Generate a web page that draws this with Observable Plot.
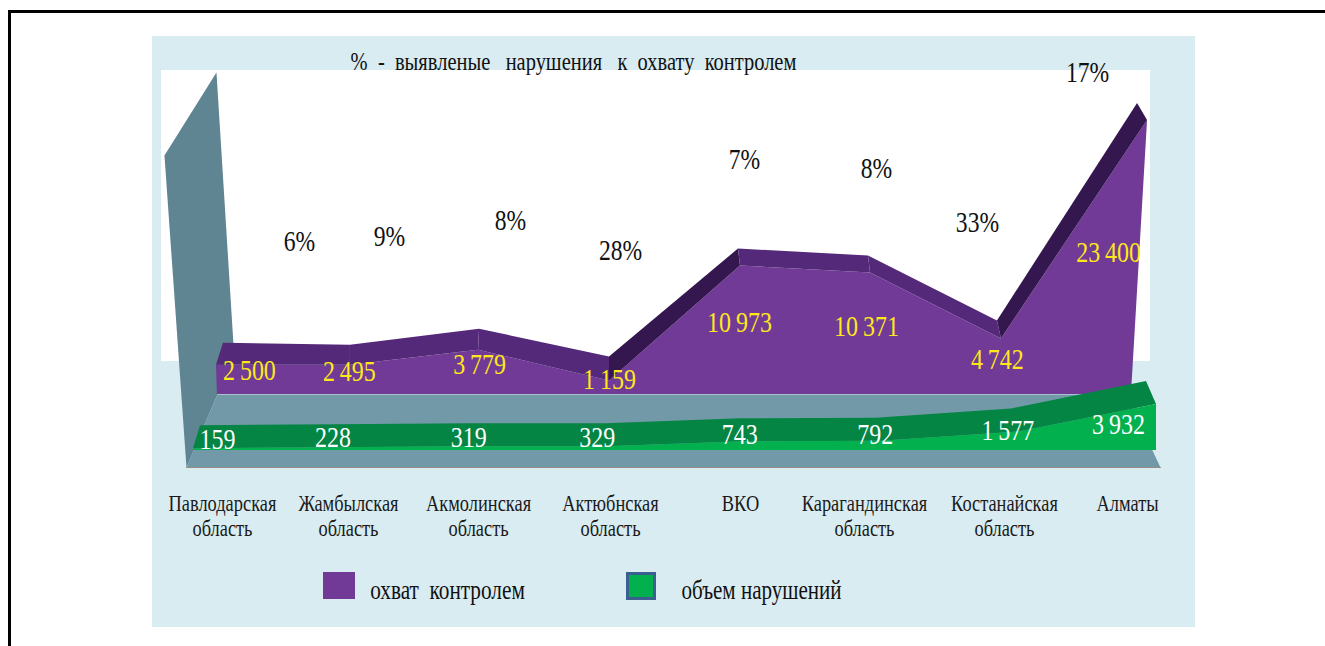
<!DOCTYPE html>
<html lang="ru">
<head>
<meta charset="utf-8">
<script src="https://cdn.jsdelivr.net/npm/d3@7"></script>
<script src="https://cdn.jsdelivr.net/npm/@observablehq/plot@0.6"></script>
<style>
  html, body { margin: 0; padding: 0; background: #fff; }
  #page { position: relative; width: 1325px; height: 646px; overflow: hidden; font-family: "Liberation Serif", serif; }
  .frame { position: absolute; left: 8px; top: 10px; width: 1400px; height: 700px; border: 3px solid #000; box-sizing: border-box; }
  .panel { position: absolute; left: 152px; top: 36px; width: 1043px; height: 591px; background: #d9ecf2; }
  .inner { position: absolute; left: 161px; top: 70px; width: 989px; height: 291px; background: #fff; }
  .swatch { position: absolute; box-sizing: border-box; }
  svg { position: absolute; left: 0; top: 0; }
</style>
</head>
<body>
<div id="page">
  <div class="frame"></div>
  <div class="panel"></div>
  <div class="inner"></div>
  <div class="swatch" style="left:323px;top:572px;width:32px;height:27px;background:#703a96"></div>
  <div class="swatch" style="left:626px;top:572px;width:30px;height:28px;background:#03b04e;border:3px solid #3b5f8f"></div>
</div>
<script>
// ---- data ----
const categories = ["Павлодарская\nобласть", "Жамбылская\nобласть", "Акмолинская\nобласть", "Актюбнская\nобласть", "ВКО", "Карагандинская\nобласть", "Костанайская\nобласть", "Алматы"];
const coverage = [2500, 2495, 3779, 1159, 10973, 10371, 4742, 23400];
const violations = [159, 228, 319, 329, 743, 792, 1577, 3932];
const percents = ["6%", "9%", "8%", "28%", "7%", "8%", "33%", "17%"];
const seriesNames = ["охват  контролем", "объем нарушений"];
const chartTitle = "%  -  выявленые   нарушения   к  охвату  контролем";

// ---- pseudo-3D layout (geometry only, not data) ----
const xRange = [193, 1156], yRange = [394, 120], vMax = 23400;
const slotPx = (xRange[1] - xRange[0]) / 7, unitPx = (yRange[0] - yRange[1]) / vMax;
const dxU = px => px / slotPx, dyU = px => -px / unitPx;     // px offsets to scale units
const idx = categories.map((_, i) => i);
const greenBase = dyU(56);
const purpleSlot = [0.167, 1.141, 2.072, 3.024, 3.976, 4.921, 5.873, 6.935];
const purpleBaseSlot = [0.174, 1.141, 2.072, 3.024, 3.976, 4.921, 5.873, 6.818];
const purpleBackDx = [7, 0, 1, 0, -2, -2, -4, -10];
const purpleBackDy = [-22, -20, -21, -24, -17, -17, -18, -17];
const bandShade = ["#55297a", "#55297a", "#55297a", "#35174f", "#55297a", "#55297a", "#35174f"];
const greenBackDx = idx.map(i => 7 - 17 * i / 7);
const greenBackDy = -23;
const wall = [[-0.211, 20410], [0.167, 27497], [0.291, 4184], [0.174, 0], [-0.051, -6234]];
const floor = [[-0.051, -6234], [7.029, -6234], [6.971, -4782], [6.818, 0], [0.174, 0]];
const floorEdge = [[-0.051, -6234], [7.029, -6234]];

// label offsets from the data point they belong to, in pixels
const coverageLabelDx = [33, -1, 1, 0, -1, -4, -4, -39], coverageLabelDy = [5, 6, 14, -2, 56, 53, 20, 132];
const violationLabelDx = [24, 2, 0, -9, -4, -6, -11, -38], violationLabelDy = [-9, -10, -9, -9, -7, -7, -2, 20];
const percentDx = [83, 39, 32, 11, 4, 6, -24, -60], percentDy = [-124, -129, -130, -130, -106, -105, -116, -48];
const categoryDx = [6, -2, 0, 1, 0, -6, 3, -20];

const fmt = v => d3.format(",")(v).replace(/,/g, "\u2009");

const bandRows = d3.range(7).flatMap(s => [s, s + 1].map(i => ({
  seg: s, c: bandShade[s],
  x1: purpleSlot[i] + dxU(purpleBackDx[i]), y1: coverage[i] + dyU(purpleBackDy[i]),
  x2: purpleSlot[i], y2: coverage[i]
})));
const purpleFront = idx.map(i => ({x1: purpleSlot[i], y1: coverage[i], x2: purpleBaseSlot[i], y2: 0}));
const greenBack = idx.map(i => ({
  x1: i + dxU(greenBackDx[i]), y1: violations[i] + greenBase + dyU(greenBackDy),
  x2: i, y2: violations[i] + greenBase
}));
const greenFront = idx.map(i => ({x: i, y1: violations[i] + greenBase, y2: greenBase}));

const textOpts = {fontFamily: "Liberation Serif", textAnchor: "middle", lineAnchor: "middle"};
const plot = Plot.plot({
  width: 1325, height: 646, margin: 0,
  style: {background: "transparent", fontFamily: "Liberation Serif"},
  x: {domain: [0, 7], range: xRange, axis: null},
  y: {domain: [0, vMax], range: yRange, axis: null},
  color: {type: "identity"},
  marks: [
    Plot.line(wall, {x: "0", y: "1", fill: "#5f8492", stroke: "none"}),
    Plot.line(floor, {x: "0", y: "1", fill: "#7299a8", stroke: "none"}),
    Plot.line(floorEdge, {x: "0", y: "1", stroke: "#9a8a80", strokeWidth: 1}),
    Plot.area(purpleFront, {x1: "x1", y1: "y1", x2: "x2", y2: "y2", fill: "#703a96"}),
    Plot.area(bandRows, {x1: "x1", y1: "y1", x2: "x2", y2: "y2", z: "seg", fill: "c"}),
    Plot.area(greenBack, {x1: "x1", y1: "y1", x2: "x2", y2: "y2", fill: "#048543"}),
    Plot.areaY(greenFront, {x: "x", y1: "y1", y2: "y2", fill: "#03b04e"}),
    Plot.text(idx, {...textOpts, x: i => purpleSlot[i] + dxU(coverageLabelDx[i]), y: i => coverage[i] + dyU(coverageLabelDy[i]), text: i => fmt(coverage[i]), fill: "#ffe81a", fontSize: 30}),
    Plot.text(idx, {...textOpts, x: i => i + dxU(violationLabelDx[i]), y: i => violations[i] + greenBase + dyU(violationLabelDy[i]), text: i => fmt(violations[i]), fill: "#fff", fontSize: 30}),
    Plot.text(idx, {...textOpts, x: i => purpleSlot[i] + dxU(percentDx[i]), y: i => coverage[i] + dyU(percentDy[i]), text: i => percents[i], fill: "#111", fontSize: 29.5}),
    Plot.text(idx, {...textOpts, lineAnchor: "top", x: i => purpleSlot[i] + dxU(categoryDx[i]), y: dyU(99), text: i => categories[i], fill: "#1a1a1a", fontSize: 23, lineHeight: 1.09}),
    Plot.text([chartTitle], {...textOpts, x: dxU(380), y: dyU(-333), text: d => d, fill: "#111", fontSize: 25.6}),
    Plot.text([seriesNames[0]], {...textOpts, x: dxU(254), y: dyU(196), text: d => d, fill: "#111", fontSize: 26.6}),
    Plot.text([seriesNames[1]], {...textOpts, x: dxU(568), y: dyU(196), text: d => d, fill: "#111", fontSize: 26.3})
  ]
});
// the reference's lettering is condensed horizontally
plot.querySelectorAll("text").forEach(t => {
  const tr = t.getAttribute("transform") || "";
  t.setAttribute("transform", tr + " scale(0.8,1)");
  t.style.whiteSpace = "pre";
});
document.getElementById("page").appendChild(plot);
</script>
</body>
</html>
